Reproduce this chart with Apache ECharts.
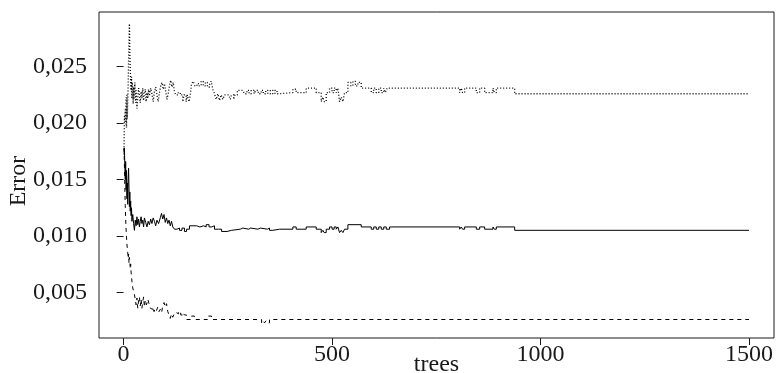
<!DOCTYPE html>
<html>
<head>
<meta charset="utf-8">
<script src="https://cdn.jsdelivr.net/npm/echarts@6/dist/echarts.min.js"></script>
<style>
html,body{margin:0;padding:0;background:#fff;}
#chart{width:777px;height:373px;}
</style>
</head>
<body>
<div id="chart"></div>
<script>
// x: number of trees; y: error rates
const xTicks = [0, 500, 1000, 1500];
const yTicks = [0.005, 0.010, 0.015, 0.020, 0.025];

// solid line: OOB error
const errOOB = [[1,0.0172],[2,0.0178],[3,0.0161],[4,0.0150],[5,0.0166],[6,0.0141],[7,0.0158],[8,0.0133],[9,0.0147],[10,0.0128],[11,0.0151],[12,0.0160],[13,0.0142],[14,0.0126],[15,0.0139],[16,0.0122],[17,0.0131],[18,0.0118],[19,0.0125],[20,0.0113],[22,0.0119],[24,0.0111],[26,0.0105],[28,0.0114],[30,0.0109],[32,0.0117],[34,0.0110],[36,0.0115],[38,0.0108],[40,0.0113],[42,0.0117],[44,0.0111],[46,0.0114],[48,0.0108],[50,0.0116],[53,0.0112],[56,0.0108],[59,0.0113],[62,0.0110],[65,0.0115],[68,0.0111],[71,0.0116],[74,0.0113],[77,0.0109],[80,0.0114],[84,0.0111],[88,0.0116],[91,0.0120],[94,0.0115],[97,0.0119],[100,0.0112],[103,0.0116],[106,0.0111],[109,0.0114],[112,0.0109],[115,0.0113],[118,0.0108],[122,0.0106],[128,0.0107],[134,0.0105],[140,0.0107],[146,0.0104],[151,0.0106],[158,0.0109],[175,0.0108],[183,0.0109],[192,0.0108],[198,0.0110],[205,0.0108],[211,0.0109],[218,0.0106],[228,0.0106],[235,0.0104],[248,0.0105],[259,0.0106],[280,0.0107],[286,0.0106],[300,0.0107],[305,0.0106],[322,0.0107],[328,0.0106],[345,0.0107],[350,0.0105],[358,0.0106],[374,0.0106],[406,0.0108],[414,0.0106],[438,0.0108],[462,0.0106],[474,0.0103],[478,0.0105],[481,0.0103],[486,0.0106],[494,0.0108],[500,0.0106],[505,0.0108],[510,0.0106],[514,0.0108],[518,0.0103],[522,0.0105],[526,0.0103],[530,0.0106],[538,0.0110],[570,0.0108],[594,0.0106],[600,0.0108],[606,0.0106],[612,0.0108],[618,0.0106],[624,0.0108],[630,0.0106],[638,0.0108],[806,0.0106],[810,0.0108],[813,0.0106],[818,0.0108],[846,0.0106],[854,0.0108],[866,0.0106],[886,0.0108],[889,0.0106],[894,0.0108],[938,0.0105],[1500,0.0105]];

// dashed line: class A error
const errClassA = [[1,0.0178],[2,0.0162],[3,0.0143],[4,0.0127],[5,0.0115],[6,0.0106],[7,0.0099],[8,0.0093],[9,0.0089],[10,0.0085],[11,0.0080],[12,0.0084],[13,0.0076],[14,0.0081],[15,0.0078],[16,0.0071],[17,0.0075],[18,0.0068],[19,0.0064],[20,0.0060],[21,0.0057],[22,0.0054],[24,0.0051],[26,0.0048],[28,0.0044],[30,0.0039],[32,0.0045],[34,0.0036],[36,0.0043],[38,0.0046],[40,0.0038],[42,0.0044],[44,0.0036],[46,0.0042],[48,0.0046],[50,0.0037],[52,0.0043],[55,0.0039],[58,0.0044],[61,0.0040],[64,0.0036],[67,0.0035],[70,0.0037],[73,0.0033],[76,0.0036],[79,0.0034],[82,0.0037],[85,0.0033],[88,0.0035],[91,0.0032],[94,0.0038],[97,0.0041],[100,0.0037],[103,0.0040],[106,0.0033],[109,0.0030],[112,0.0027],[115,0.0031],[118,0.0028],[122,0.0032],[127,0.0031],[132,0.0033],[137,0.0030],[142,0.0032],[146,0.0030],[151,0.0026],[163,0.0029],[170,0.0026],[201,0.0029],[211,0.0026],[331,0.0023],[335,0.0025],[338,0.0023],[342,0.0025],[345,0.0023],[350,0.0026],[1500,0.0026]];

// dotted line: class B error
const errClassB = [[1,0.0176],[2,0.0206],[3,0.0201],[4,0.0212],[5,0.0199],[6,0.0223],[7,0.0196],[8,0.0226],[9,0.0204],[10,0.0220],[11,0.0234],[12,0.0256],[13,0.0273],[14,0.0288],[15,0.0263],[16,0.0248],[17,0.0237],[18,0.0229],[19,0.0241],[20,0.0222],[21,0.0236],[22,0.0227],[23,0.0217],[24,0.0232],[25,0.0221],[26,0.0228],[27,0.0236],[28,0.0224],[29,0.0218],[30,0.0229],[32,0.0213],[34,0.0222],[36,0.0231],[38,0.0225],[40,0.0218],[42,0.0228],[44,0.0222],[46,0.0231],[48,0.0220],[50,0.0226],[52,0.0230],[54,0.0219],[56,0.0227],[58,0.0222],[60,0.0230],[62,0.0224],[65,0.0231],[68,0.0226],[71,0.0219],[74,0.0228],[77,0.0232],[80,0.0225],[83,0.0219],[86,0.0227],[89,0.0233],[92,0.0236],[95,0.0230],[98,0.0235],[101,0.0228],[104,0.0221],[107,0.0226],[110,0.0233],[113,0.0238],[116,0.0232],[119,0.0236],[122,0.0228],[125,0.0225],[131,0.0227],[136,0.0225],[142,0.0219],[145,0.0225],[150,0.0219],[153,0.0225],[157,0.0219],[160,0.0225],[163,0.0235],[167,0.0237],[171,0.0233],[176,0.0235],[181,0.0233],[186,0.0237],[191,0.0233],[196,0.0236],[201,0.0232],[206,0.0234],[210,0.0237],[214,0.0230],[218,0.0226],[222,0.0221],[226,0.0226],[230,0.0220],[234,0.0225],[238,0.0221],[242,0.0225],[252,0.0225],[256,0.0221],[259,0.0225],[264,0.0221],[267,0.0225],[273,0.0229],[286,0.0229],[290,0.0226],[296,0.0229],[301,0.0226],[306,0.0229],[313,0.0226],[317,0.0229],[323,0.0226],[330,0.0229],[335,0.0226],[341,0.0229],[346,0.0226],[352,0.0229],[358,0.0226],[363,0.0229],[368,0.0226],[374,0.0227],[406,0.0230],[414,0.0227],[438,0.0231],[462,0.0227],[474,0.0219],[478,0.0223],[481,0.0219],[486,0.0227],[494,0.0231],[500,0.0227],[505,0.0231],[510,0.0227],[514,0.0231],[518,0.0219],[522,0.0223],[526,0.0219],[530,0.0227],[538,0.0236],[545,0.0233],[550,0.0237],[556,0.0233],[562,0.0236],[570,0.0231],[594,0.0227],[600,0.0231],[606,0.0227],[612,0.0231],[618,0.0227],[624,0.0231],[628,0.0227],[632,0.0231],[638,0.0231],[806,0.0227],[810,0.0231],[813,0.0227],[818,0.0231],[846,0.0227],[854,0.0231],[866,0.0227],[886,0.0231],[889,0.0227],[894,0.0231],[938,0.0226],[1500,0.0226]];

const FONT = '"Liberation Serif", "DejaVu Serif", serif';
const INK = '#1a1a1a';

const chart = echarts.init(document.getElementById('chart'), null, {renderer: 'canvas'});
const xMin = 1 - 0.04 * 1499, xMax = 1500 + 0.04 * 1499;

chart.setOption({
  animation: false,
  backgroundColor: '#fff',
  grid: {left: 99, right: 3, top: 12, bottom: 35, containLabel: false, outerBoundsMode: 'none',
         show: true, borderColor: INK, borderWidth: 1, backgroundColor: 'transparent'},
  xAxis: {
    type: 'value', min: xMin, max: xMax,
    name: 'trees', nameLocation: 'middle', nameGap: 15, nameMoveOverlap: false,
    nameTextStyle: {fontFamily: FONT, fontSize: 24, color: INK},
    axisLine: {show: false},
    splitLine: {show: false},
    axisTick: {show: true, length: 7, inside: false, customValues: xTicks, lineStyle: {color: INK, width: 1}},
    axisLabel: {show: true, customValues: xTicks, margin: 5, fontFamily: FONT, fontSize: 24, color: INK, formatter: v => String(v)}
  },
  yAxis: {
    type: 'value', min: 0.00096, max: 0.029844,
    name: 'Error', nameLocation: 'middle', nameGap: 68, nameRotate: 90, nameMoveOverlap: false,
    nameTextStyle: {fontFamily: FONT, fontSize: 24, color: INK, padding: [0, 12, 0, 0]},
    axisLine: {show: false},
    splitLine: {show: false},
    axisTick: {show: true, length: 7, inside: false, customValues: yTicks, lineStyle: {color: INK, width: 1}},
    axisLabel: {show: true, customValues: yTicks, margin: 12, fontFamily: FONT, fontSize: 24, color: INK, formatter: v => v.toFixed(3).replace('.', ',')}
  },
  series: [
    {type: 'line', data: errOOB, step: 'end', showSymbol: false, symbol: 'none', lineStyle: {color: '#000', width: 1, type: 'solid'}},
    {type: 'line', data: errClassA, step: 'end', showSymbol: false, symbol: 'none', lineStyle: {color: '#000', width: 1, type: [4, 4]}},
    {type: 'line', data: errClassB, step: 'end', showSymbol: false, symbol: 'none', lineStyle: {color: '#000', width: 1.3, type: [1, 2]}}
  ]
});
</script>
</body>
</html>
